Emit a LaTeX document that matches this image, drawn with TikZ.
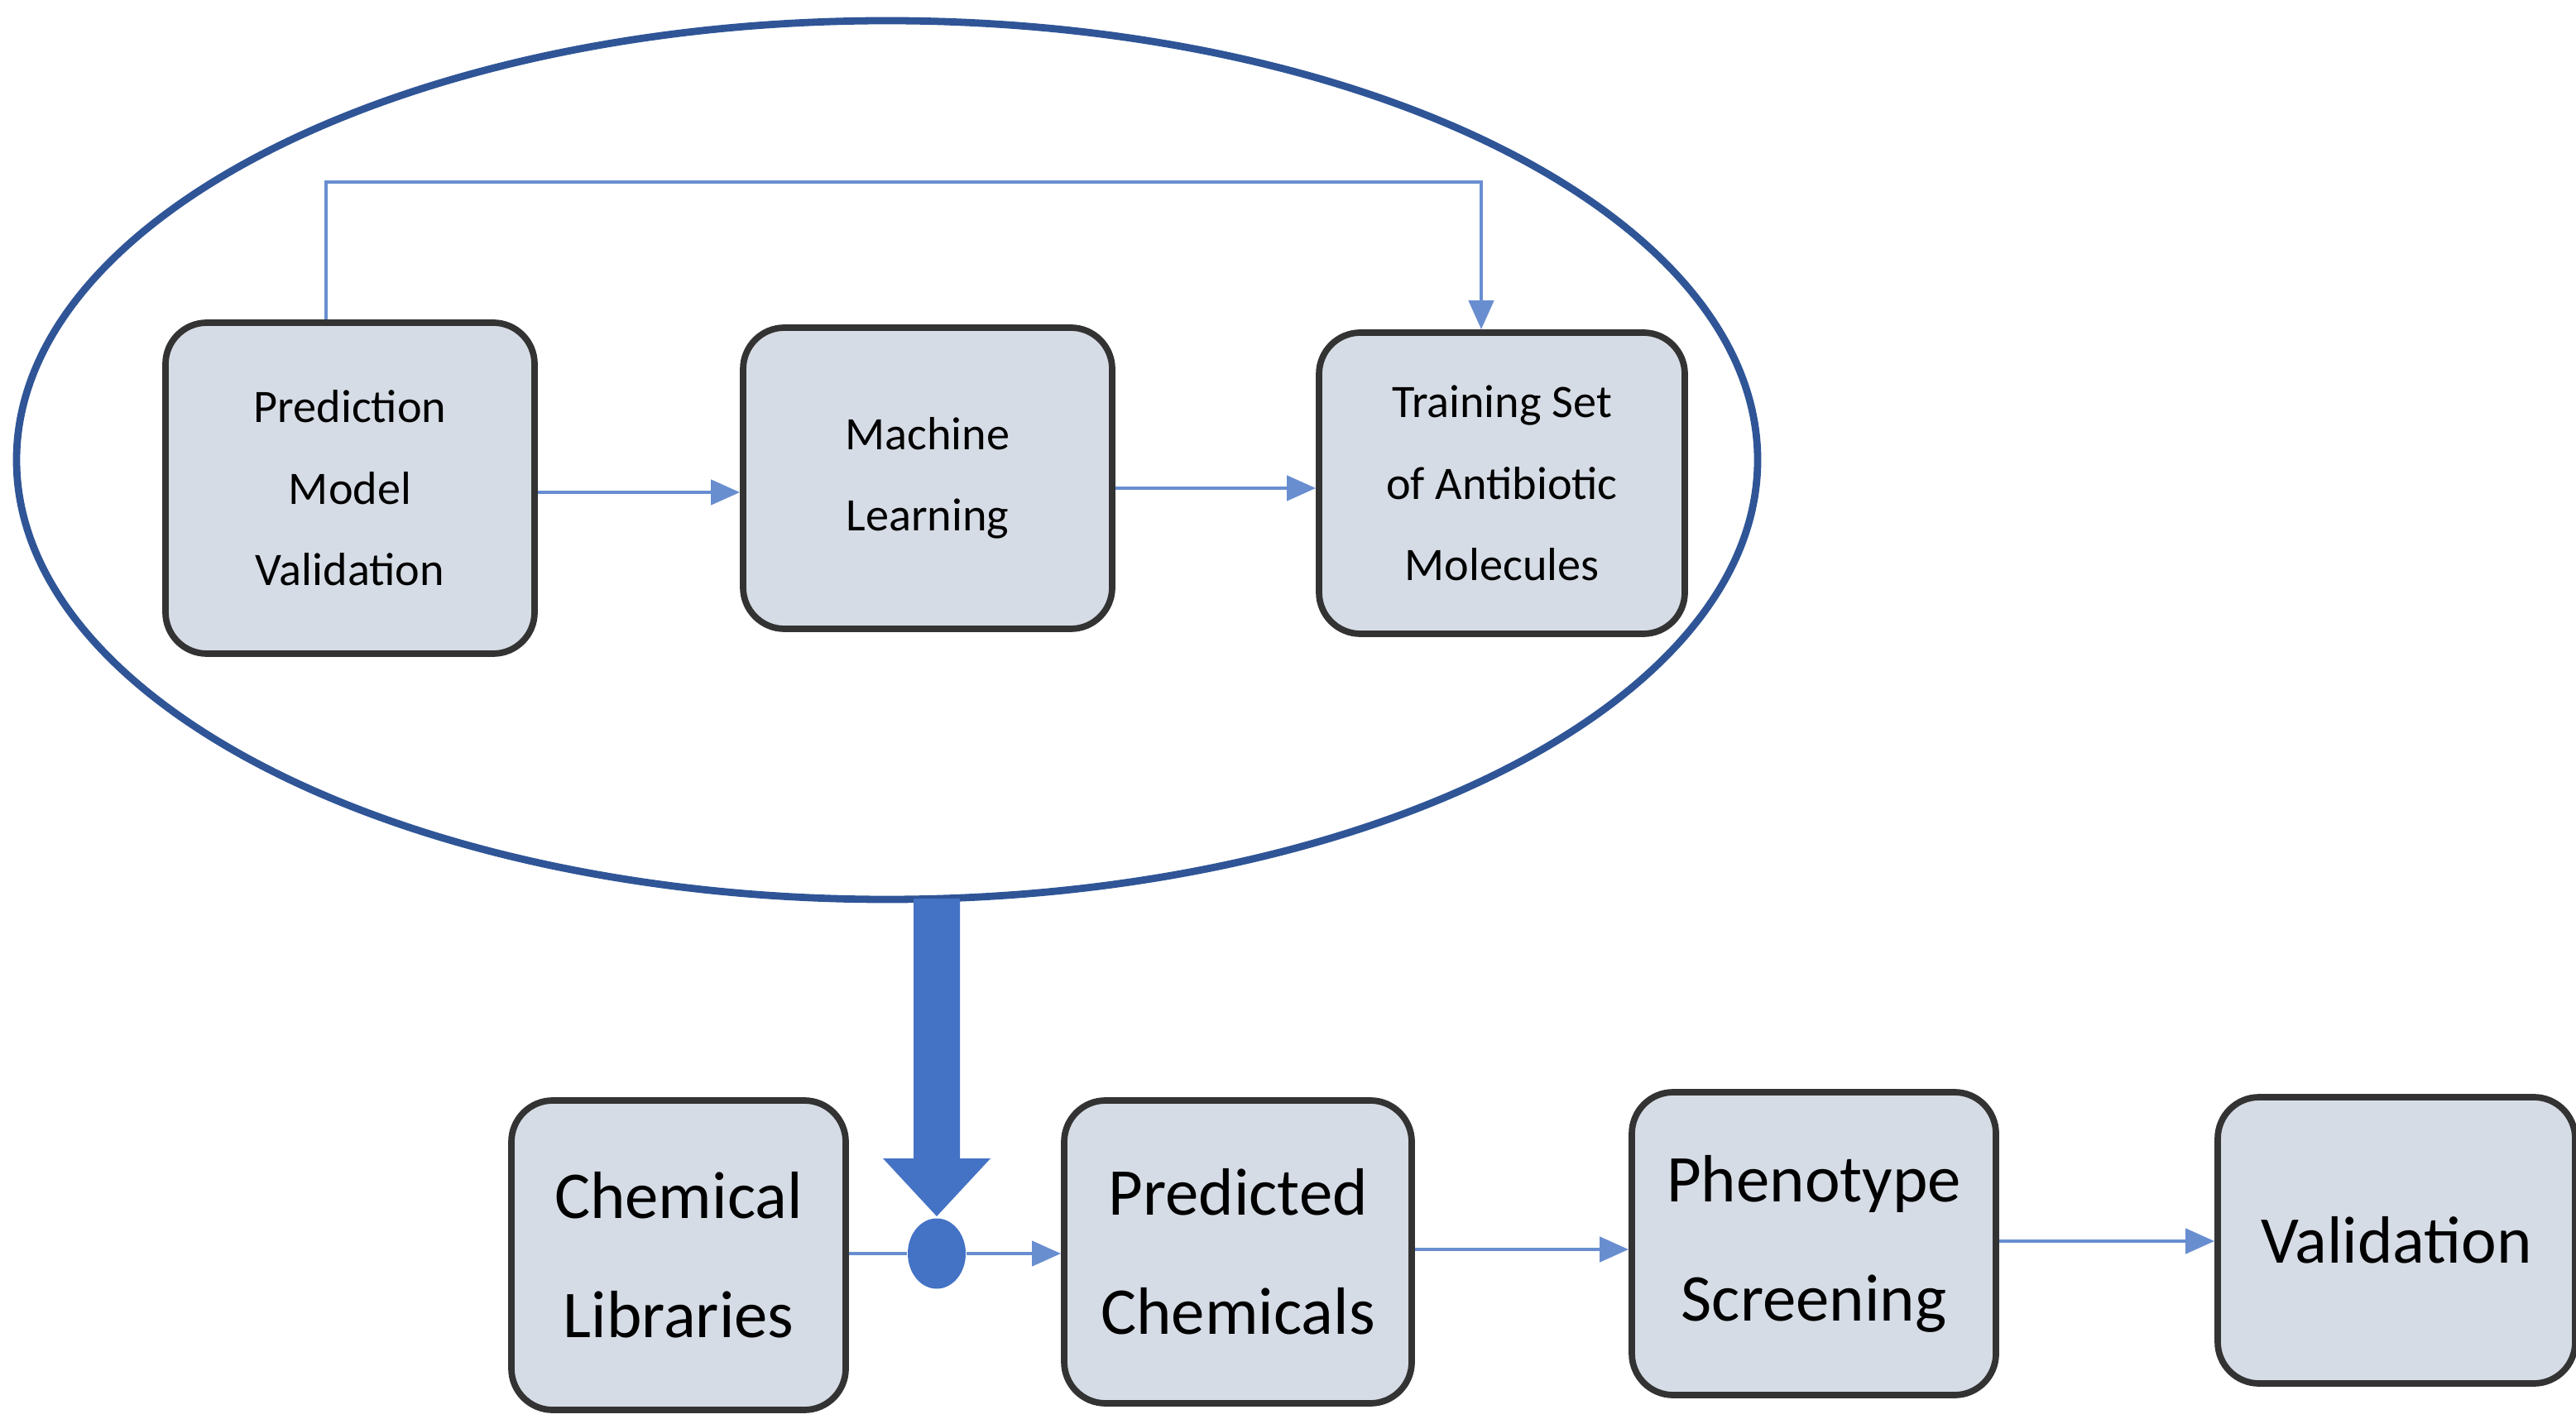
\documentclass[tikz,border=0pt]{standalone}
\usepackage{fontspec}
\setmainfont{Carlito}
\usetikzlibrary{arrows.meta,shapes.geometric}
\definecolor{boxfill}{HTML}{D6DCE5}
\definecolor{ln}{HTML}{4472C4}
\definecolor{ell}{HTML}{2F5597}
\tikzset{
 box/.style={draw=black!80, line width=2.2pt, fill=boxfill, rounded corners=0.5cm, align=center, inner sep=0pt},
 top/.style={box, font=\fontsize{16}{28}\selectfont},
 bot/.style={box, font=\fontsize{23}{41}\selectfont},
 con/.style={draw=ln!80, line width=1.3pt, -{Triangle[length=0.35cm,width=0.3cm]}}
}
\begin{document}
\begin{tikzpicture}
\useasboundingbox (0,0) rectangle (31.13,17.2);
\node[draw=ell, line width=2.5pt, ellipse, minimum width=21.04cm, minimum height=10.62cm] (E) at (10.72,11.64) {};
\node[top, minimum width=4.46cm, minimum height=4.0cm] (pm) at (4.23,11.30) {Prediction\\Model\\Validation};
\node[top, minimum width=4.46cm, minimum height=3.64cm] (ml) at (11.21,11.42) {Machine\\Learning};
\node[top, minimum width=4.42cm, minimum height=3.64cm] (ts) at (18.15,11.36) {Training Set\\of Antibiotic\\Molecules};
\draw[con] (pm.east |- 0,11.25) -- (ml.west |- 0,11.25);
\draw[con] (ml.east |- 0,11.30) -- (ts.west |- 0,11.30);
\coordinate (f1) at (3.94,15.0);
\coordinate (f2) at (17.9,15.0);
\draw[con] (pm.north -| f1) -- (f1) -- (f2) -- (ts.north -| f2);
\node[bot, minimum width=4.04cm, minimum height=3.74cm] (cl) at (8.20,2.03) {Chemical\\Libraries};
\node[bot, minimum width=4.2cm, minimum height=3.66cm] (pc) at (14.96,2.07) {Predicted\\Chemicals};
\node[bot, minimum width=4.4cm, minimum height=3.66cm] (ps) at (21.92,2.17) {Phenotype\\Screening};
\node[bot, minimum width=4.32cm, minimum height=3.46cm] (va) at (28.96,2.21) {Validation};
\node[ellipse, fill=ln, minimum width=0.7cm, minimum height=0.85cm, inner sep=0pt] (dot) at (11.32,2.05) {};
\draw[draw=ln!80, line width=1.3pt] (cl.east |- dot) -- (dot);
\draw[con] (dot) -- (pc.west |- dot);
\draw[con] (pc.east |- 0,2.1) -- (ps.west |- 0,2.1);
\draw[con] (ps.east |- 0,2.2) -- (va.west |- 0,2.2);
\fill[ln] (11.04,6.34) -- (11.6,6.34) -- (11.6,3.2) -- (11.97,3.2) -- (11.32,2.5) -- (10.67,3.2) -- (11.04,3.2) -- cycle;
\end{tikzpicture}
\end{document}
